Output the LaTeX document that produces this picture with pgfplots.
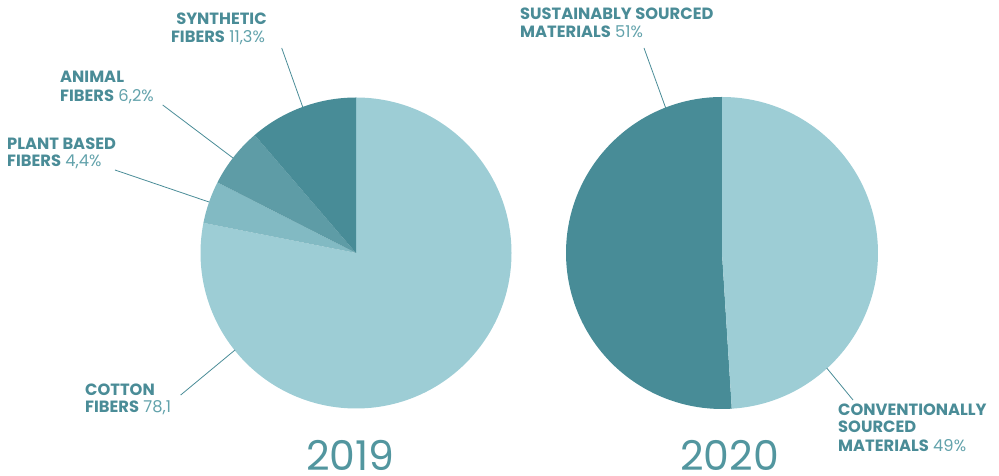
\documentclass[border=0pt]{standalone}
\usepackage{pgfplots}
\pgfplotsset{compat=1.18}
\usepackage{fontspec}
\setmainfont{Poppins}
\definecolor{cotton}{HTML}{9DCDD5}
\definecolor{plant}{HTML}{82BAC3}
\definecolor{animal}{HTML}{5E9CA6}
\definecolor{synth}{HTML}{488C97}
\definecolor{lab}{HTML}{4A8C97}
\definecolor{pct}{HTML}{62A2AB}
\definecolor{yr}{HTML}{52969F}
\newcommand{\lf}{\fontsize{16.3}{19}\selectfont}
\newcommand{\bl}[1]{{\bfseries\color{lab}#1}}
\newcommand{\pc}[1]{{\color{pct}#1}}
\begin{document}
\begin{tikzpicture}
\begin{axis}[scale only axis, width=999pt, height=476pt,
  xmin=0, xmax=999, ymin=0, ymax=476, hide axis, clip=false]
\path (axis cs:0,0) (axis cs:999,476);
\pgfplotsextra{
  % 2019: share of fibres (percent), clockwise from 12 o'clock
  \gdef\astart{90}
  \foreach \v/\c in {78.1/cotton, 4.4/plant, 6.2/animal, 11.3/synth}{
    \pgfmathsetmacro\aend{\astart-3.6*\v}
    \fill[\c] (axis cs:356,223) -- ++(\astart:155.5pt)
      arc[start angle=\astart, end angle=\aend, radius=155.5pt] -- cycle;
    \global\let\astart\aend
  }
  % 2020: sourcing (percent), counter-clockwise from 12 o'clock
  \gdef\astart{90}
  \foreach \v/\c in {51/synth, 49/cotton}{
    \pgfmathsetmacro\aend{\astart+3.6*\v}
    \fill[\c] (axis cs:722,223) -- ++(\astart:156pt)
      arc[start angle=\astart, end angle=\aend, radius=156pt] -- cycle;
    \global\let\astart\aend
  }
}
% leader lines
\draw[lab, line width=0.8pt] (axis cs:281.7,428) -- (axis cs:302.7,369);
\draw[lab, line width=0.8pt] (axis cs:162.7,371) -- (axis cs:233,318);
\draw[lab, line width=0.8pt] (axis cs:115,306) -- (axis cs:209,274);
\draw[lab, line width=0.8pt] (axis cs:180.7,81) -- (axis cs:235,126);
\draw[lab, line width=0.8pt] (axis cs:644,428) -- (axis cs:665.7,368);
\draw[lab, line width=0.8pt] (axis cs:853,76) -- (axis cs:826.7,108);
% labels
\begin{scope}[every node/.style={inner sep=0pt, font=\lf}]
\node[anchor=base] at (axis cs:221.5,451.5) {\bl{SYNTHETIC}};
\node[anchor=base] at (axis cs:218,433.3) {\bl{FIBERS} \pc{11,3\%}};
\node[anchor=base west] at (axis cs:60,393.3) {\bl{ANIMAL}};
\node[anchor=base west] at (axis cs:60,374.7) {\bl{FIBERS} \pc{6,2\%}};
\node[anchor=base west] at (axis cs:7,326) {\bl{PLANT BASED}};
\node[anchor=base west] at (axis cs:7,309.3) {\bl{FIBERS} \pc{4,4\%}};
\node[anchor=base west] at (axis cs:85,80) {\bl{COTTON}};
\node[anchor=base west] at (axis cs:85,63.3) {\bl{FIBERS} \pc{78,1}};
\node[anchor=base west] at (axis cs:520,456) {\bl{SUSTAINABLY SOURCED}};
\node[anchor=base west] at (axis cs:520,438) {\bl{MATERIALS} \pc{51\%}};
\node[anchor=base west] at (axis cs:838,60.3) {\bl{CONVENTIONALLY}};
\node[anchor=base west] at (axis cs:838,43) {\bl{SOURCED}};
\node[anchor=base west] at (axis cs:838,24) {\bl{MATERIALS} \pc{49\%}};
\end{scope}
\node[anchor=base, inner sep=0pt, font=\fontsize{41}{42}\selectfont, text=yr] at (axis cs:350.5,5) {2019};
\node[anchor=base, inner sep=0pt, font=\fontsize{41}{42}\selectfont, text=yr] at (axis cs:729.5,5) {2020};
\end{axis}
\end{tikzpicture}
\end{document}
